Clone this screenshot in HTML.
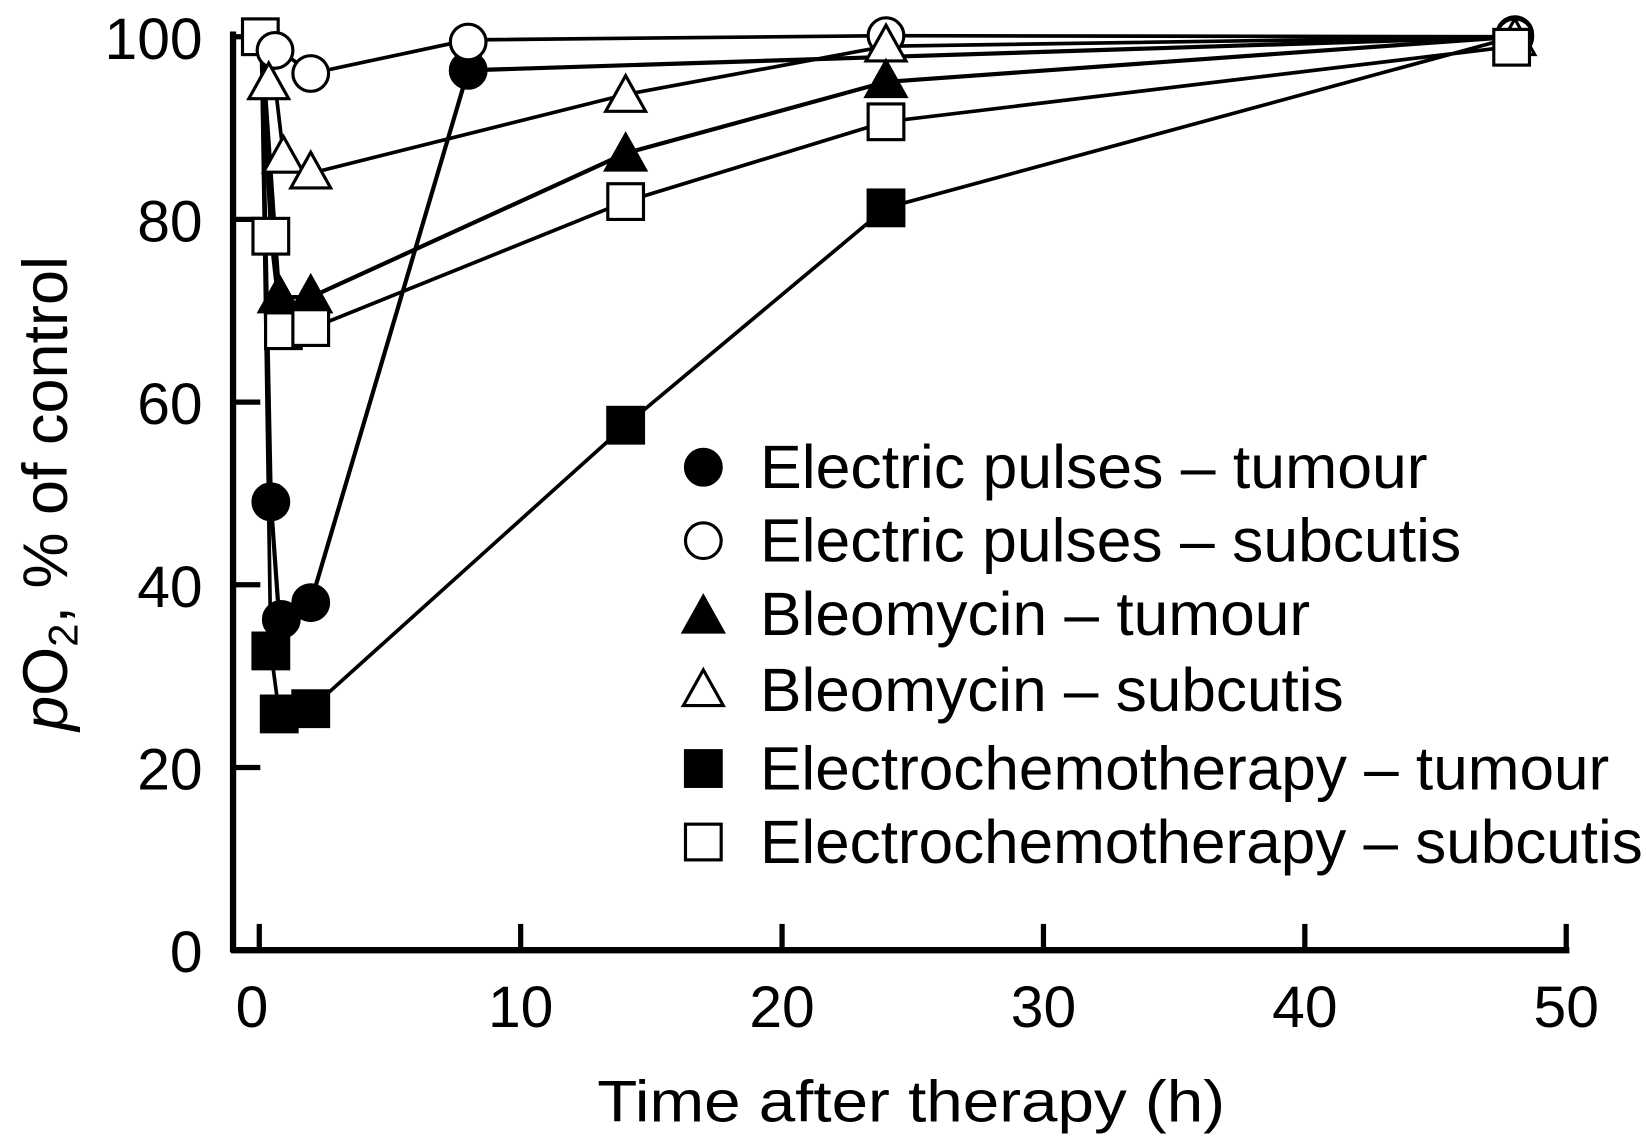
<!DOCTYPE html>
<html><head><meta charset="utf-8"><style>
html,body{margin:0;padding:0;background:#fff;}
svg{display:block;}
text{font-family:"Liberation Sans",sans-serif;fill:#000;}
</style></head><body>
<svg width="1646" height="1136" viewBox="0 0 1568 1082" preserveAspectRatio="none" xmlns="http://www.w3.org/2000/svg">
<defs>
<circle id="fc" r="17" fill="#000" stroke="#000" stroke-width="3"/>
<circle id="oc" r="17" fill="#fff" stroke="#000" stroke-width="3"/>
<polygon id="ft" points="0,-20 19,14 -19,14" fill="#000" stroke="#000" stroke-width="3"/>
<polygon id="ot" points="0,-20 19,14 -19,14" fill="#fff" stroke="#000" stroke-width="3"/>
<rect id="fs" x="-17" y="-17" width="34" height="34" fill="#000" stroke="#000" stroke-width="3"/>
<rect id="os" x="-17" y="-17" width="34" height="34" fill="#fff" stroke="#000" stroke-width="3"/>
</defs>
<g stroke="#000" fill="none">
<line x1="222" y1="30" x2="222" y2="907" stroke-width="6"/>
<line x1="220" y1="905" x2="1495" y2="905" stroke-width="6"/>
<g stroke-width="5">
<line x1="222" y1="35" x2="248" y2="35"/>
<line x1="222" y1="209" x2="248" y2="209"/>
<line x1="222" y1="383" x2="248" y2="383"/>
<line x1="222" y1="557" x2="248" y2="557"/>
<line x1="222" y1="731" x2="248" y2="731"/>
<line x1="247" y1="905" x2="247" y2="880"/>
<line x1="496" y1="905" x2="496" y2="880"/>
<line x1="745" y1="905" x2="745" y2="880"/>
<line x1="994" y1="905" x2="994" y2="880"/>
<line x1="1243" y1="905" x2="1243" y2="880"/>
<line x1="1492" y1="905" x2="1492" y2="880"/>
</g>
</g>
<g font-size="56" text-anchor="end">
<text x="193" y="56">100</text>
<text x="193" y="230">80</text>
<text x="193" y="404">60</text>
<text x="193" y="578">40</text>
<text x="193" y="752">20</text>
<text x="193" y="926">0</text>
</g>
<g font-size="56" text-anchor="middle">
<text x="240" y="978">0</text>
<text x="496" y="978">10</text>
<text x="745" y="978">20</text>
<text x="994" y="978">30</text>
<text x="1243" y="978">40</text>
<text x="1492" y="978">50</text>
<text x="868" y="1068" textLength="598" lengthAdjust="spacingAndGlyphs">Time after therapy (h)</text>
</g>
<text font-size="60" text-anchor="middle" transform="translate(64,470) rotate(-90)"><tspan font-style="italic">p</tspan>O<tspan font-size="40" dy="10">2</tspan><tspan dy="-10">, % of control</tspan></text>
<g fill="none" stroke="#000" stroke-width="3.5">
<polyline points="249,35 258,478 266,590 296,574 446,67 1443,35" stroke-width="4"/>
<polyline points="249,35 262,44 296,70 446,38 844,34 1443,35"/>
<polyline points="249,35 266,283 296,283 596,146 844,78 1443,35" stroke-width="4"/>
<polyline points="252,80 262,80 270,148 296,165 596,90 844,44 1443,35"/>
<polyline points="249,35 258,620 266,680 296,675 596,405 844,198 1443,35"/>
<polyline points="249,35 258,225 268,315 296,313 596,192 844,116 1443,44"/>
</g>
<use href="#os" x="248" y="35"/>
<use href="#oc" x="262" y="48"/>
<use href="#ot" x="256" y="80"/>
<use href="#oc" x="296" y="70"/>
<use href="#ot" x="270" y="150"/>
<use href="#ot" x="296" y="165"/>
<use href="#os" x="258" y="225"/>
<use href="#ft" x="266" y="283"/>
<use href="#ft" x="296" y="283"/>
<use href="#os" x="270" y="315"/>
<use href="#os" x="296" y="312"/>
<use href="#fc" x="258" y="478"/>
<use href="#fc" x="268" y="590"/>
<use href="#fc" x="296" y="574"/>
<use href="#fs" x="258" y="620"/>
<use href="#fs" x="266" y="680"/>
<use href="#fs" x="296" y="675"/>
<use href="#fc" x="446" y="67"/>
<use href="#oc" x="446" y="40"/>
<use href="#ot" x="596" y="92"/>
<use href="#ft" x="596" y="148"/>
<use href="#os" x="596" y="192"/>
<use href="#fs" x="596" y="405"/>
<use href="#oc" x="844" y="34"/>
<use href="#ot" x="844" y="44"/>
<use href="#ft" x="844" y="78"/>
<use href="#os" x="844" y="116"/>
<use href="#fs" x="844" y="198"/>
<use href="#fc" x="1443" y="33"/>
<use href="#oc" x="1443" y="35"/>
<use href="#ot" x="1443" y="38"/>
<use href="#os" x="1440" y="45"/>
<use href="#fc" x="670" y="445"/>
<use href="#oc" x="670" y="515"/>
<use href="#ft" x="670" y="588"/>
<use href="#ot" x="670" y="658"/>
<use href="#fs" x="670" y="732"/>
<use href="#os" x="670" y="802"/>
<g font-size="58" lengthAdjust="spacingAndGlyphs">
<text x="724" y="465" textLength="636" lengthAdjust="spacingAndGlyphs">Electric pulses – tumour</text>
<text x="724" y="535" textLength="668" lengthAdjust="spacingAndGlyphs">Electric pulses – subcutis</text>
<text x="724" y="605" textLength="524" lengthAdjust="spacingAndGlyphs">Bleomycin – tumour</text>
<text x="724" y="677" textLength="556" lengthAdjust="spacingAndGlyphs">Bleomycin – subcutis</text>
<text x="724" y="752" textLength="809" lengthAdjust="spacingAndGlyphs">Electrochemotherapy – tumour</text>
<text x="724" y="822" textLength="841" lengthAdjust="spacingAndGlyphs">Electrochemotherapy – subcutis</text>
</g>
</svg>
</body></html>
